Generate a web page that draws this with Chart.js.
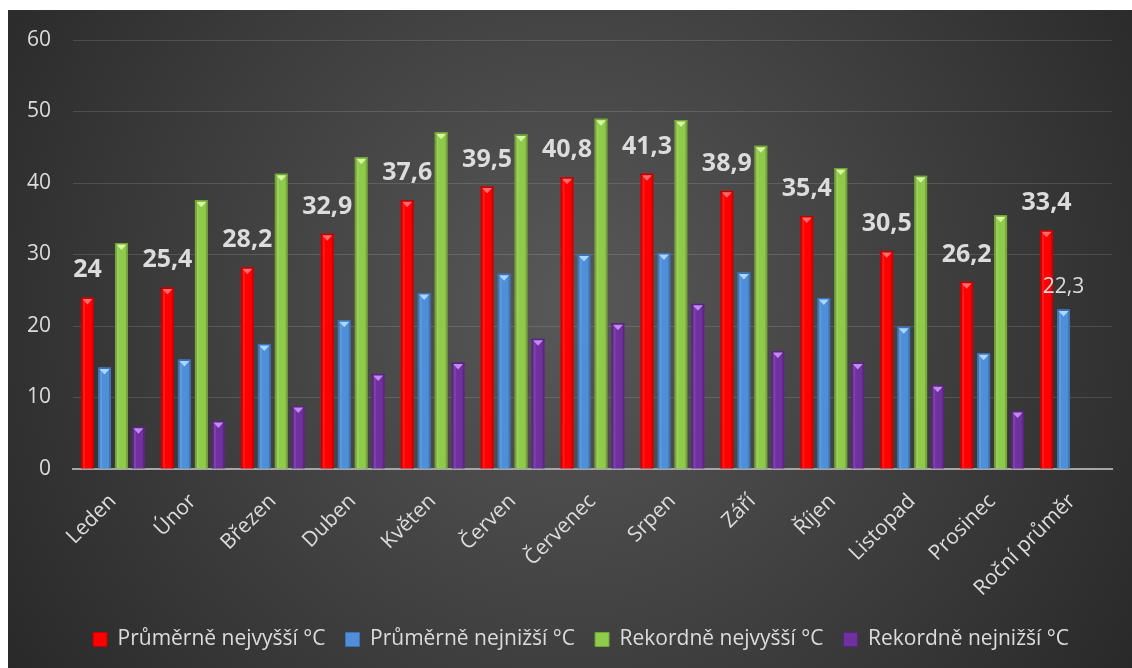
<!DOCTYPE html>
<html><head><meta charset="utf-8">
<script src="https://cdn.jsdelivr.net/npm/chart.js@4.4.1/dist/chart.umd.min.js"></script>
<style>
html,body{margin:0;padding:0;background:#fff;}
#wrap{position:absolute;left:8px;top:10px;width:1124px;height:658px;}
</style></head><body>
<div id="wrap"><canvas id="c" width="1124" height="658"></canvas></div>
<script>
const categories = ['Leden','Únor','Březen','Duben','Květen','Červen','Červenec','Srpen','Září','Říjen','Listopad','Prosinec','Roční průměr'];
const seriesNames = ['Průměrně nejvyšší °C','Průměrně nejnižší °C','Rekordně nejvyšší °C','Rekordně nejnižší °C'];
const avgHigh = [24,25.4,28.2,32.9,37.6,39.5,40.8,41.3,38.9,35.4,30.5,26.2,33.4];
const avgLow  = [14.2,15.3,17.5,20.8,24.6,27.3,30.0,30.2,27.5,23.9,19.9,16.2,22.3];
const recHigh = [31.6,37.6,41.3,43.6,47.1,46.8,49.0,48.8,45.2,42.1,41.0,35.5,null];
const recLow  = [5.9,6.7,8.8,13.3,14.9,18.2,20.4,23.1,16.5,14.9,11.7,8.1,null];
const yTicks = [0,10,20,30,40,50,60];

const baseColors = ['#ff0000','#4f8fda','#8fcb4a','#7030a0'];
const capColors  = ['#ff6a6a','#aad6ff','#d8f5a0','#c58af0'];
const edgeColors = ['#c00000','#3a72b8','#6fa535','#56237e'];
const FONT = "'Open Sans', sans-serif";
const TXT = '#dcdcdc';

const bgPlugin = {
  id:'bg',
  beforeDraw(chart){
    const {ctx,width,height} = chart;
    ctx.save();
    const g = ctx.createRadialGradient(width*0.5,height*0.45,20,width*0.5,height*0.45,Math.max(width,height)*0.62);
    g.addColorStop(0,'#575757');
    g.addColorStop(1,'#272727');
    ctx.fillStyle = g;
    ctx.fillRect(0,0,width,height);
    ctx.restore();
  },
  afterLayout(chart){
    if (chart.legend) chart.legend.left += 42;
  }
};

const barDeco = {
  id:'barDeco',
  afterDatasetsDraw(chart){
    const ctx = chart.ctx;
    ctx.save();
    chart.data.datasets.forEach((ds,di)=>{
      const meta = chart.getDatasetMeta(di);
      meta.data.forEach((bar,i)=>{
        if (ds.data[i]==null) return;
        const {x,y,width,base} = bar.getProps(['x','y','width','base'],true);
        const l = x-width/2, r = x+width/2;
        ctx.fillStyle = 'rgba(0,0,0,0.18)';
        ctx.fillRect(l,y,2,base-y);
        ctx.fillRect(r-2,y,2,base-y);
        ctx.fillStyle = 'rgba(255,255,255,0.10)';
        ctx.fillRect(l+2,y,2,base-y);
        ctx.fillStyle = edgeColors[di];
        ctx.fillRect(l,y,width,2);
        ctx.beginPath();
        ctx.moveTo(l+1.5,y+1.5);
        ctx.lineTo(r-1.5,y+1.5);
        ctx.lineTo(x,y+7);
        ctx.closePath();
        ctx.fillStyle = capColors[di];
        ctx.fill();
      });
    });
    ctx.restore();
  }
};

const labelPlugin = {
  id:'labels',
  afterDatasetsDraw(chart){
    const ctx = chart.ctx;
    ctx.save();
    ctx.fillStyle = TXT;
    ctx.textAlign = 'center';
    ctx.textBaseline = 'alphabetic';
    const m0 = chart.getDatasetMeta(0);
    ctx.font = "bold 25px " + FONT;
    m0.data.forEach((bar,i)=>{
      const v = avgHigh[i];
      ctx.fillText(String(v).replace('.',','), bar.x, bar.y-20);
    });
    const m1 = chart.getDatasetMeta(1);
    const last = categories.length-1;
    const b = m1.data[last];
    ctx.font = "21px " + FONT;
    ctx.fillText(String(avgLow[last]).replace('.',','), b.x, b.y-17);
    ctx.restore();
  }
};

const seriesData = [avgHigh, avgLow, recHigh, recLow];
new Chart(document.getElementById('c'), {
  type:'bar',
  data:{
    labels: categories,
    datasets: seriesData.map((d,i)=>({
      label: seriesNames[i],
      data: d,
      backgroundColor: baseColors[i],
      borderWidth: 0,
      categoryPercentage: 0.85,
      barPercentage: 0.765
    }))
  },
  options:{
    responsive:false,
    animation:false,
    layout:{padding:{top:30,right:20,left:0,bottom:8}},
    plugins:{
      tooltip:{enabled:false},
      legend:{
        position:'bottom',
        labels:{
          color:TXT,
          font:{family:FONT,size:21},
          boxWidth:14, boxHeight:14,
          padding:20,
          generateLabels(chart){
            return chart.data.datasets.map((ds,i)=>({
              text: ds.label,
              fillStyle: baseColors[i],
              strokeStyle: edgeColors[i],
              lineWidth: 1,
              fontColor: TXT,
              datasetIndex: i,
              hidden:false
            }));
          }
        }
      }
    },
    scales:{
      x:{
        grid:{display:false, drawTicks:false},
        border:{display:true,color:'#a6a6a6',width:2},
        ticks:{color:TXT,font:{family:FONT,size:21},minRotation:45,maxRotation:45,padding:20,autoSkip:false},
        afterFit(s){ s.height = 140; s.paddingLeft = 0; }
      },
      y:{
        min:0,max:60,
        afterBuildTicks(s){ s.ticks = yTicks.map(v=>({value:v})); },
        grid:{color:'rgba(255,255,255,0.13)',lineWidth:1,drawTicks:false},
        border:{display:false},
        ticks:{color:TXT,font:{family:FONT,size:21},padding:22},
        afterFit(s){ s.width = 65; s.paddingTop = 0; s.paddingBottom = 0; }
      }
    }
  },
  plugins:[bgPlugin, barDeco, labelPlugin]
});
</script>
</body></html>
